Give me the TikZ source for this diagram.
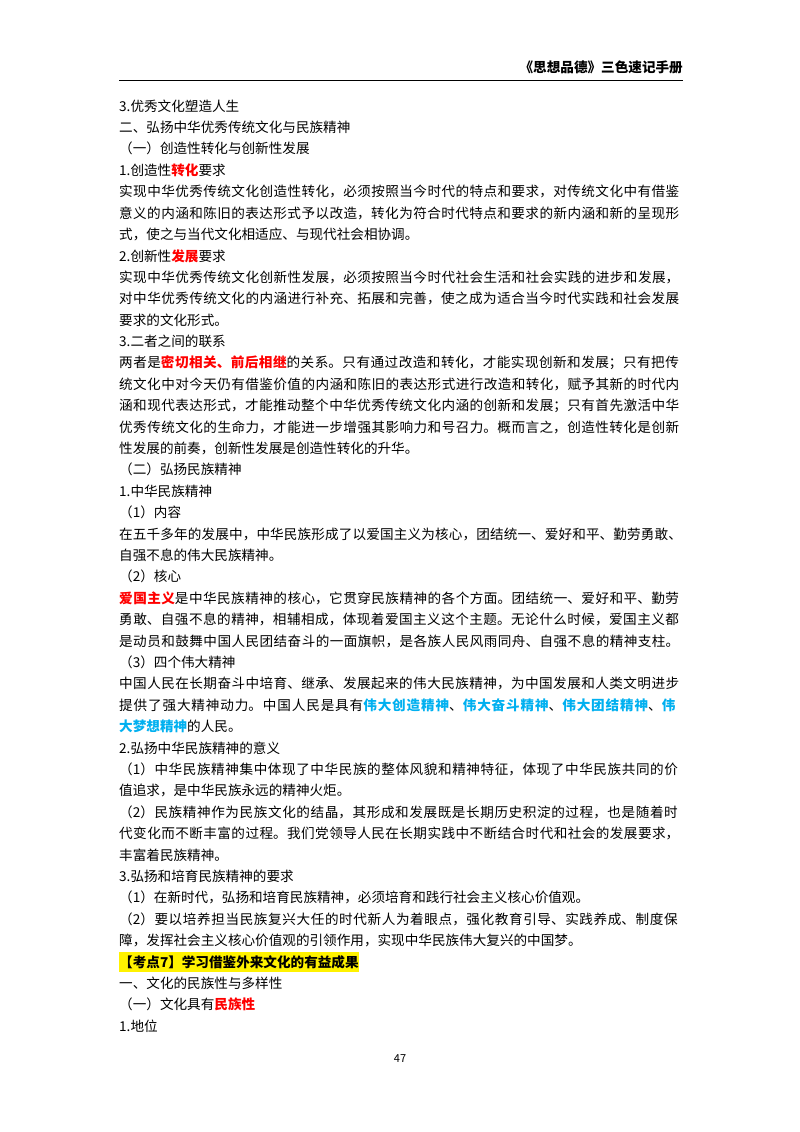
\documentclass[tikz,border=0pt]{standalone}
\usepackage{fontspec}
\setmainfont{Noto Sans CJK SC}
\XeTeXlinebreaklocale "zh"
\XeTeXlinebreakskip=0pt plus 3pt
\definecolor{kred}{RGB}{255,0,0}
\definecolor{kblue}{RGB}{0,176,240}
\newcommand\R[1]{\textbf{\color{kred}#1}}
\newcommand\B[1]{\textbf{\color{kblue}#1}}
\begin{document}
\begin{tikzpicture}[x=1pt,y=-1pt,
  ln/.style={anchor=base west,inner sep=0pt,font=\fontsize{13.6}{16}\selectfont},
  fl/.style={ln,text width=564pt}]
\useasboundingbox (0,0) rectangle (800,1132);
\fill[white] (0,0) rectangle (800,1132);
\node[anchor=base east,inner sep=0pt,font=\fontsize{13.6}{16}\selectfont\bfseries] (hd) at (683,73) {《思想品德》三色速记手册};
\draw[line width=0.8pt] (119,80) -- (683,80);
\newcommand\SL[3]{\node[ln] (#1) at (119,#2) {#3};}
\newcommand\FL[3]{\node[fl] (#1) at (119,#2) {\parfillskip=0pt\relax #3\par};}
\SL{l1}{111}{3.优秀文化塑造人生}
\SL{l2}{132}{二、弘扬中华优秀传统文化与民族精神}
\SL{l3}{153}{（一）创造性转化与创新性发展}
\SL{l4}{175}{1.创造性\R{转化}要求}
\FL{l5}{196}{实现中华优秀传统文化创造性转化，必须按照当今时代的特点和要求，对传统文化中有借鉴}
\FL{l6}{218}{意义的内涵和陈旧的表达形式予以改造，转化为符合时代特点和要求的新内涵和新的呈现形}
\SL{l7}{239}{式，使之与当代文化相适应、与现代社会相协调。}
\SL{l8}{261}{2.创新性\R{发展}要求}
\FL{l9}{282}{实现中华优秀传统文化创新性发展，必须按照当今时代社会生活和社会实践的进步和发展，}
\FL{l10}{303}{对中华优秀传统文化的内涵进行补充、拓展和完善，使之成为适合当今时代实践和社会发展}
\SL{l11}{325}{要求的文化形式。}
\SL{l12}{346}{3.二者之间的联系}
\FL{l13}{367}{两者是\R{密切相关、前后相继}的关系。只有通过改造和转化，才能实现创新和发展；只有把传}
\FL{l14}{389}{统文化中对今天仍有借鉴价值的内涵和陈旧的表达形式进行改造和转化，赋予其新的时代内}
\FL{l15}{410}{涵和现代表达形式，才能推动整个中华优秀传统文化内涵的创新和发展；只有首先激活中华}
\FL{l16}{432}{优秀传统文化的生命力，才能进一步增强其影响力和号召力。概而言之，创造性转化是创新}
\SL{l17}{453}{性发展的前奏，创新性发展是创造性转化的升华。}
\SL{l18}{474}{（二）弘扬民族精神}
\SL{l19}{496}{1.中华民族精神}
\SL{l20}{517}{（1）内容}
\FL{l21}{539}{在五千多年的发展中，中华民族形成了以爱国主义为核心，团结统一、爱好和平、勤劳勇敢、}
\SL{l22}{560}{自强不息的伟大民族精神。}
\SL{l23}{581}{（2）核心}
\FL{l24}{603}{\R{爱国主义}是中华民族精神的核心，它贯穿民族精神的各个方面。团结统一、爱好和平、勤劳}
\FL{l25}{624}{勇敢、自强不息的精神，相辅相成，体现着爱国主义这个主题。无论什么时候，爱国主义都}
\FL{l26}{646}{是动员和鼓舞中国人民团结奋斗的一面旗帜，是各族人民风雨同舟、自强不息的精神支柱。}
\SL{l27}{667}{（3）四个伟大精神}
\FL{l28}{688}{中国人民在长期奋斗中培育、继承、发展起来的伟大民族精神，为中国发展和人类文明进步}
\FL{l29}{710}{提供了强大精神动力。中国人民是具有\B{伟大创造精神}、\B{伟大奋斗精神}、\B{伟大团结精神}、\B{伟}}
\SL{l30}{731}{\B{大梦想精神}的人民。}
\SL{l31}{753}{2.弘扬中华民族精神的意义}
\FL{l32}{774}{（1）中华民族精神集中体现了中华民族的整体风貌和精神特征，体现了中华民族共同的价}
\SL{l33}{795}{值追求，是中华民族永远的精神火炬。}
\FL{l34}{817}{（2）民族精神作为民族文化的结晶，其形成和发展既是长期历史积淀的过程，也是随着时}
\FL{l35}{838}{代变化而不断丰富的过程。我们党领导人民在长期实践中不断结合时代和社会的发展要求，}
\SL{l36}{860}{丰富着民族精神。}
\SL{l37}{881}{3.弘扬和培育民族精神的要求}
\SL{l38}{902}{（1）在新时代，弘扬和培育民族精神，必须培育和践行社会主义核心价值观。}
\FL{l39}{924}{（2）要以培养担当民族复兴大任的时代新人为着眼点，强化教育引导、实践养成、制度保}
\SL{l40}{945}{障，发挥社会主义核心价值观的引领作用，实现中华民族伟大复兴的中国梦。}
\node[ln,fill=yellow,inner ysep=3pt] (l41) at (119,967) {\textbf{【考点7】学习借鉴外来文化的有益成果}};
\SL{l42}{988}{一、文化的民族性与多样性}
\SL{l43}{1009}{（一）文化具有\R{民族性}}
\SL{l44}{1031}{1.地位}
\node[anchor=base,inner sep=0pt,font=\fontsize{11}{13}\selectfont] (pg) at (400,1062) {47};
\end{tikzpicture}
\end{document}
